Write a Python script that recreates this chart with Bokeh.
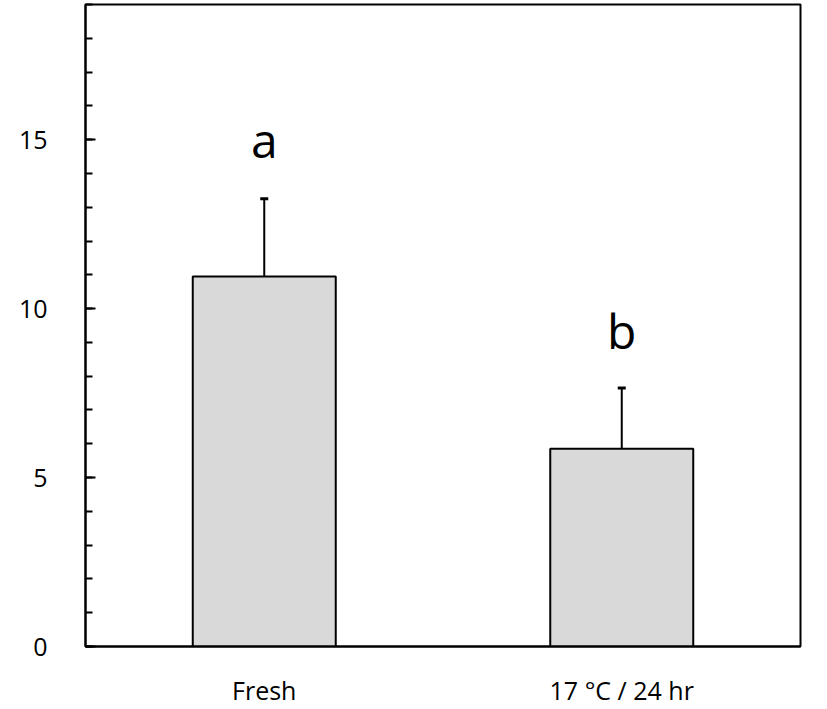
from bokeh.plotting import figure
from bokeh.models import FactorRange, Range1d, FixedTicker, ColumnDataSource
from bokeh.core.properties import value
from bokeh.embed import file_html
from bokeh.resources import INLINE

categories = ["Fresh", "17 °C / 24 hr"]
means = [10.95, 5.85]
errors = [2.3, 1.8]
letters = ["a", "b"]
letter_y = [15.0, 9.35]
y_major_ticks = [0, 5, 10, 15]
y_minor_ticks = list(range(0, 20))

FONT = "Open Sans"

src = ColumnDataSource(dict(
    x=categories,
    top=means,
    err_top=[m + e for m, e in zip(means, errors)],
    letter=letters,
    ly=letter_y,
))

p = figure(
    width=827, height=709,
    x_range=FactorRange(*categories, range_padding=0),
    y_range=Range1d(0, 19),
    output_backend="svg", toolbar_location=None,
    min_border_left=85, min_border_right=27, min_border_top=4, min_border_bottom=58,
)
p.background_fill_color = "white"
p.border_fill_color = "white"
p.outline_line_color = "black"
p.outline_line_width = 2
p.xgrid.visible = False
p.ygrid.visible = False

p.vbar(x="x", top="top", width=0.4, source=src, fill_color="#d9d9d9",
       line_color="black", line_width=2)
p.segment(x0="x", y0="top", x1="x", y1="err_top", source=src,
          line_color="black", line_width=2)
p.scatter(x="x", y="err_top", marker="dash", size=8, source=src,
          line_color="black", line_width=3)
p.text(x="x", y="ly", text="letter", source=src, text_align="center",
       text_baseline="alphabetic", text_font=value(FONT), text_font_size="48px",
       text_color="black")

ya = p.yaxis[0]
ya.ticker = FixedTicker(ticks=y_major_ticks, minor_ticks=y_minor_ticks)
ya.axis_line_width = 2
ya.axis_line_color = "black"
ya.major_tick_in = 10
ya.major_tick_out = 0
ya.minor_tick_in = 7
ya.minor_tick_out = 0
ya.major_tick_line_width = 2
ya.minor_tick_line_width = 2
ya.major_label_standoff = 38
ya.major_label_text_font = FONT
ya.major_label_text_font_size = "25px"
ya.major_label_text_color = "black"

xa = p.xaxis[0]
xa.axis_line_width = 2
xa.axis_line_color = "black"
xa.major_tick_in = 0
xa.major_tick_out = 0
xa.minor_tick_in = 0
xa.minor_tick_out = 0
xa.major_label_standoff = 26
xa.major_label_text_font = FONT
xa.major_label_text_font_size = "25px"
xa.major_label_text_color = "black"

open("out.html", "w").write(file_html(p, INLINE))
